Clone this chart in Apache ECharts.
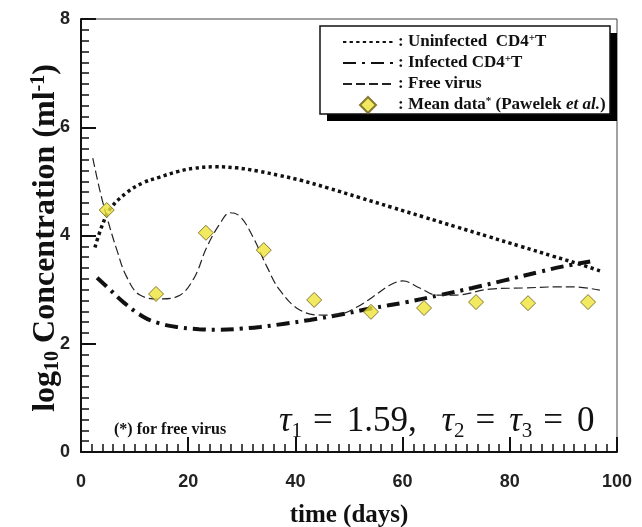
<!DOCTYPE html>
<html>
<head>
<meta charset="utf-8">
<script src="https://cdn.jsdelivr.net/npm/echarts@6/dist/echarts.min.js"></script>
<style>
  html, body { margin: 0; padding: 0; background: #fff; }
  #chart { width: 642px; height: 527px; }
</style>
</head>
<body>
<div id="chart"></div>
<script>
// values (day, log10 concentration)
const uninfectedDays = [2.6, 4, 5.5, 8.5, 11.5, 14.7, 18, 21, 25, 29, 33, 37, 41, 46, 52, 58, 64, 70, 76, 82, 88, 93, 97];
const uninfectedVals = [3.78, 4.2, 4.5, 4.79, 4.97, 5.08, 5.18, 5.24, 5.27, 5.25, 5.19, 5.11, 5.02, 4.88, 4.70, 4.52, 4.34, 4.16, 3.98, 3.80, 3.62, 3.47, 3.34];

const infectedDays = [3, 5.4, 8, 11.6, 14.5, 17.9, 22, 26, 30, 33.4, 38, 42.7, 48, 54, 60.8, 67, 73, 79, 85.6, 90, 95];
const infectedVals = [3.22, 3.0, 2.76, 2.5, 2.38, 2.31, 2.27, 2.26, 2.28, 2.31, 2.37, 2.44, 2.53, 2.65, 2.77, 2.9, 3.03, 3.17, 3.33, 3.43, 3.52];

const virusDays = [2.2, 3.5, 4.8, 6.7, 8.5, 11, 14.7, 17.9, 20.9, 23.5, 26, 27.8, 29.7, 32.1, 34.7, 37.1, 40.9, 45.1, 48.5, 51.5, 54.5, 57.6, 60, 63.2, 66.4, 70, 76.3, 82.5, 88.8, 91.8, 96.8];
const virusVals = [5.43, 4.84, 4.35, 3.73, 3.24, 2.9, 2.83, 2.87, 3.18, 3.79, 4.23, 4.42, 4.35, 3.97, 3.42, 2.99, 2.62, 2.53, 2.55, 2.68, 2.87, 3.08, 3.16, 3.03, 2.9, 2.9, 3.01, 3.03, 3.05, 3.05, 2.99];

const meanDays = [4.8, 14, 23.3, 34.1, 43.5, 54.1, 64, 73.7, 83.4, 94.6];
const meanVals = [4.47, 2.92, 4.05, 3.73, 2.81, 2.59, 2.66, 2.77, 2.75, 2.77];

const xTicks = [0, 20, 40, 60, 80, 100];
const yTicks = [0, 2, 4, 6, 8];

function pairs(xs, ys) {
  return xs.map((x, i) => [x, ys[i]]);
}

const serif = '"Liberation Serif", "Times New Roman", serif';
const sans = '"Liberation Sans", Arial, sans-serif';
const tickColor = '#111';

const legendText = {
  'Uninfected': ': Uninfected  CD4{sup|+}T',
  'Infected': ': Infected CD4{sup|+}T',
  'Free virus': ': Free virus',
  'Mean data': ': Mean data{sup|*} (Pawelek {it|et al.})'
};
// hide the round marker echarts puts on line legend icons
const noMarker = { color: 'rgba(0,0,0,0)', borderColor: 'rgba(0,0,0,0)', borderWidth: 0 };

// short ticks only, drawn by a second axis on each side
function minorAxis(max, step) {
  return {
    type: 'value', min: 0, max: max, interval: step,
    axisLine: { show: false },
    axisTick: { show: true, inside: true, length: 8, lineStyle: { color: tickColor, width: 1.5 } },
    axisLabel: { show: false },
    splitLine: { show: false }
  };
}

const chart = echarts.init(document.getElementById('chart'));
chart.setOption({
  animation: false,
  backgroundColor: '#fff',
  grid: {
    left: 81, right: 25, top: 19, bottom: 75,
    outerBoundsMode: 'none',
    show: true, borderColor: '#444', borderWidth: 1
  },
  legend: {
    orient: 'vertical',
    left: 320, top: 26,
    padding: [7, 6, 4, 22],
    itemWidth: 50, itemHeight: 16, itemGap: 3,
    selectedMode: false,
    z: 10,
    data: [
      { name: 'Uninfected', itemStyle: noMarker },
      { name: 'Infected', itemStyle: noMarker },
      { name: 'Free virus', itemStyle: noMarker },
      { name: 'Mean data', icon: 'path://M5,0L10,5L5,10L0,5Z' }
    ],
    formatter: name => legendText[name],
    textStyle: {
      fontFamily: serif, fontWeight: 'bold', fontSize: 17, color: '#111', lineHeight: 18,
      rich: {
        sup: { fontFamily: serif, fontWeight: 'bold', fontSize: 11, lineHeight: 9, verticalAlign: 'top', color: '#111' },
        it: { fontFamily: serif, fontWeight: 'bold', fontStyle: 'italic', fontSize: 17, lineHeight: 18, color: '#111' }
      }
    }
  },
  xAxis: [
    {
      type: 'value', min: 0, max: 100, interval: 20,
      name: 'time (days)', nameLocation: 'middle', nameGap: 51, nameMoveOverlap: false,
      nameTextStyle: { fontFamily: serif, fontWeight: 'bold', fontSize: 25, color: '#111' },
      axisLine: { lineStyle: { color: '#111', width: 2 } },
      axisTick: { show: true, inside: true, length: 15, lineStyle: { color: tickColor, width: 2 } },
      splitLine: { show: false },
      axisLabel: {
        margin: 21, fontFamily: sans, fontWeight: 'bold', fontSize: 18, color: '#222',
        formatter: v => xTicks.includes(v) ? String(v) : ''
      }
    },
    Object.assign(minorAxis(100, 2), { position: 'bottom' })
  ],
  yAxis: [
    {
      type: 'value', min: 0, max: 8, interval: 2,
      name: '{b|log}{s|10}{b| Concentration (ml}{p|-1}{e|)}',
      nameLocation: 'middle', nameGap: 18, nameRotate: 90,
      nameMoveOverlap: false,
      nameTextStyle: {
        rich: {
          b: { fontFamily: serif, fontWeight: 'bold', fontSize: 32, lineHeight: 34, color: '#111' },
          e: { fontFamily: serif, fontWeight: 'bold', fontSize: 32, lineHeight: 34, color: '#111', padding: [0, 5, 0, 0] },
          s: { fontFamily: serif, fontWeight: 'bold', fontSize: 20, lineHeight: 14, verticalAlign: 'bottom', color: '#111' },
          p: { fontFamily: serif, fontWeight: 'bold', fontSize: 20, lineHeight: 14, verticalAlign: 'top', color: '#111' }
        }
      },
      axisLine: { lineStyle: { color: '#111', width: 2 } },
      axisTick: { show: true, inside: true, length: 15, lineStyle: { color: tickColor, width: 2 } },
      splitLine: { show: false },
      axisLabel: {
        margin: 11, fontFamily: sans, fontWeight: 'bold', fontSize: 18, color: '#222',
        formatter: v => yTicks.includes(v) ? String(v) : ''
      }
    },
    Object.assign(minorAxis(8, 0.2), { position: 'left' })
  ],
  graphic: [
    // legend frame with its hard black drop shadow
    {
      type: 'rect', z: 8, shape: { x: 327, y: 33, width: 290, height: 88 },
      style: { fill: '#000' }
    },
    {
      type: 'rect', z: 9, shape: { x: 320, y: 26, width: 290, height: 88 },
      style: { fill: '#fff', stroke: '#111', lineWidth: 1.5 }
    },
    {
      type: 'text', left: 114, top: 422, z: 9,
      style: { text: '(*) for free virus', font: 'bold 16px ' + serif, fill: '#111' }
    },
    {
      type: 'text', left: 279, top: 404, z: 9,
      style: {
        text: '{t|τ}{s|1}{e|=}{n|1.59,}{g| }{t|τ}{s|2}{e|=}{t|τ}{s|3}{e|=}{n|0}',
        rich: {
          n: { fontFamily: serif, fontSize: 35, lineHeight: 40, fill: '#111' },
          e: { fontFamily: serif, fontSize: 35, lineHeight: 40, fill: '#111', padding: [0, 14, 0, 11] },
          g: { fontFamily: serif, fontSize: 35, lineHeight: 40, fill: '#111', padding: [0, 16, 0, 0] },
          t: { fontFamily: serif, fontStyle: 'italic', fontSize: 35, lineHeight: 40, fill: '#111' },
          s: { fontFamily: serif, fontSize: 21, lineHeight: 22, verticalAlign: 'bottom', fill: '#111' }
        }
      }
    }
  ],
  series: [
    {
      name: 'Uninfected', type: 'line', smooth: 0.4, symbol: 'none',
      data: pairs(uninfectedDays, uninfectedVals),
      lineStyle: { color: '#111', width: 3.5, type: [3.3, 3.3] },
      itemStyle: { color: '#111' }
    },
    {
      name: 'Infected', type: 'line', smooth: 0.4, symbol: 'none',
      data: pairs(infectedDays, infectedVals),
      lineStyle: { color: '#111', width: 4, type: [13, 6, 3, 6] },
      itemStyle: { color: '#111' }
    },
    {
      name: 'Free virus', type: 'line', smooth: 0.4, symbol: 'none',
      data: pairs(virusDays, virusVals),
      lineStyle: { color: '#222', width: 1.2, type: [9, 4] },
      itemStyle: { color: '#222' }
    },
    {
      name: 'Mean data', type: 'scatter', symbol: 'diamond', symbolSize: 15,
      data: pairs(meanDays, meanVals),
      itemStyle: { color: '#ede437', borderColor: '#6b5a12', borderWidth: 1 },
      z: 5
    }
  ]
});
</script>
</body>
</html>
